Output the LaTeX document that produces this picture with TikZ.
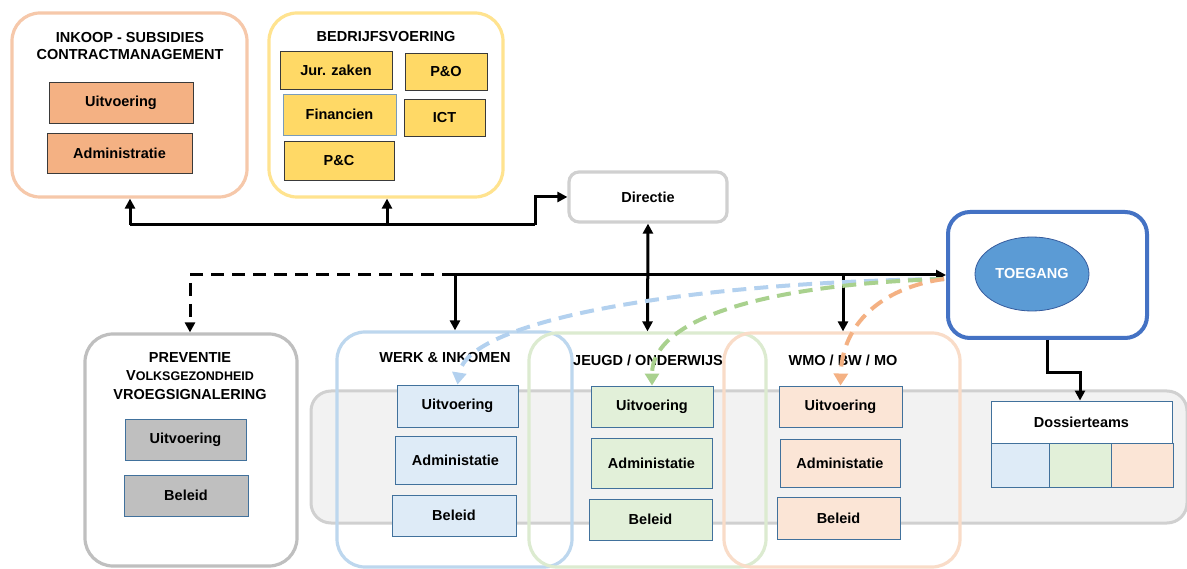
\documentclass[tikz,border=0pt]{standalone}
\usepackage{fontspec}
\setmainfont{Liberation Sans}
\usetikzlibrary{arrows.meta,shapes.geometric}

\definecolor{peachline}{HTML}{F6C8AA}
\definecolor{peachfill}{HTML}{F4B183}
\definecolor{yellowline}{HTML}{FFE38F}
\definecolor{yellowfill}{HTML}{FFD966}
\definecolor{greyline}{HTML}{BFBFBF}
\definecolor{greyfill}{HTML}{BFBFBF}
\definecolor{dirline}{HTML}{D0D0D0}
\definecolor{toegline}{HTML}{4472C4}
\definecolor{toegfill}{HTML}{5B9BD5}
\definecolor{bandfill}{HTML}{F2F2F2}
\definecolor{bandline}{HTML}{D0D0D0}
\definecolor{werkline}{HTML}{BDD7EE}
\definecolor{werkfill}{HTML}{DEEBF7}
\definecolor{jeugdline}{HTML}{DCEBD0}
\definecolor{jeugdfill}{HTML}{E2F0D9}
\definecolor{wmoline}{HTML}{F9DCC8}
\definecolor{wmofill}{HTML}{FBE5D6}
\definecolor{unitedge}{HTML}{41719C}
\definecolor{darkedge}{HTML}{3A3A3A}
\definecolor{curveblue}{HTML}{B3D1EF}
\definecolor{curvegreen}{HTML}{A9D18E}
\definecolor{curvepeach}{HTML}{F4B183}

\tikzset{
  txt/.style={font=\bfseries\fontsize{14.5}{17.5}\selectfont},
  group/.style={draw, rounded corners=28pt, line width=3.2pt, inner sep=0pt},
  unit/.style={txt, draw=unitedge, line width=0.9pt, inner sep=0pt},
  title/.style={txt, align=center, inner sep=0pt},
  tip/.style={-{Triangle[width=10pt,length=10pt]}},
  conn/.style={line width=3pt, tip},
  bus/.style={line width=3pt},
  busdash/.style={line width=3pt, dash pattern=on 13pt off 8pt},
  flow/.style={line width=4pt, dash pattern=on 14pt off 8pt,
    -{Triangle[width=14pt,length=12pt]}}
}

\begin{document}
\begin{tikzpicture}[x=1pt,y=-1pt]
\useasboundingbox (0,0) rectangle (1187,569);
\fill[white] (0,0) rectangle (1187,569);

% shared band behind the three domain columns and the dossier teams
\node[draw=bandline, fill=bandfill, line width=3pt, rounded corners=20pt,
      minimum width=876pt, minimum height=132pt, inner sep=0pt] (band) at (749,457) {};

% ---- top row -------------------------------------------------------
\node[group, draw=peachline, minimum width=235pt, minimum height=184pt] (inkoop) at (129.5,105) {};
\node[title] (inkooptitle) at (130,46) {INKOOP - SUBSIDIES\\CONTRACTMANAGEMENT};
\node[unit, draw=darkedge, fill=peachfill, minimum width=144pt, minimum height=41pt] (inkoopU) at (121,102.5) {Uitvoering};
\node[unit, draw=darkedge, fill=peachfill, minimum width=145pt, minimum height=40pt] (inkoopA) at (119.5,153) {Administratie};

\node[group, draw=yellowline, minimum width=234pt, minimum height=184pt] (bedrijf) at (386,105) {};
\node[title] (bedrijftitle) at (386,37) {BEDRIJFSVOERING};
\node[unit, draw=darkedge, fill=yellowfill, minimum width=112pt, minimum height=38pt] (jur) at (336,70) {Jur. zaken};
\node[unit, draw=darkedge, fill=yellowfill, minimum width=82pt, minimum height=37pt] (po) at (446,71.5) {P\&O};
\node[unit, draw=unitedge!70, fill=yellowfill, minimum width=113pt, minimum height=41pt] (fin) at (339.5,114.5) {Financien};
\node[unit, draw=darkedge, fill=yellowfill, minimum width=81pt, minimum height=37pt] (ict) at (444.5,117.5) {ICT};
\node[unit, draw=darkedge, fill=yellowfill, minimum width=110pt, minimum height=39pt] (pc) at (339,160.5) {P\&C};

\node[txt, draw=dirline, line width=3.2pt, rounded corners=10pt, fill=white,
      minimum width=158pt, minimum height=50pt, inner sep=0pt] (directie) at (648,197) {Directie};

% ---- toegang --------------------------------------------------------
\node[group, draw=toegline, line width=4pt, rounded corners=22pt,
      minimum width=199pt, minimum height=126pt] (toegang) at (1047.5,275) {};
\node[ellipse, draw=toegline!80!black, fill=toegfill, line width=0.8pt,
      minimum width=114pt, minimum height=74pt, inner sep=0pt,
      txt, text=white] (toegangcore) at (1032,274) {TOEGANG};

% ---- domain columns ------------------------------------------------
\node[group, draw=greyline, minimum width=212pt, minimum height=232pt] (prev) at (191,450) {};
\node[title, font=\bfseries\fontsize{14.5}{18.5}\selectfont] (prevtitle) at (190,376)
  {PREVENTIE\\V{\fontsize{12.5}{18.5}\selectfont OLKSGEZONDHEID}\\VROEGSIGNALERING};
\node[unit, fill=greyfill, minimum width=121pt, minimum height=41pt] (prevU) at (185.5,439.5) {Uitvoering};
\node[unit, fill=greyfill, minimum width=124pt, minimum height=41pt] (prevB) at (186,495.5) {Beleid};

\node[group, draw=werkline, minimum width=235pt, minimum height=235pt] (werk) at (454.5,449.5) {};
\node[group, draw=jeugdline, minimum width=237pt, minimum height=234pt] (jeugd) at (647.5,450) {};
\node[group, draw=wmoline, minimum width=236pt, minimum height=234pt] (wmo) at (842,450) {};

\node[title] (werktitle) at (445,358) {WERK \& INKOMEN};
\node[unit, fill=werkfill, minimum width=121pt, minimum height=42pt] (werkU) at (457.5,406) {Uitvoering};
\node[unit, fill=werkfill, minimum width=121pt, minimum height=48pt] (werkA) at (455.5,460) {Administatie};
\node[unit, fill=werkfill, minimum width=124pt, minimum height=41pt] (werkB) at (454,515.5) {Beleid};

\node[title] (jeugdtitle) at (648,360) {JEUGD / ONDERWIJS};
\node[unit, fill=jeugdfill, minimum width=122pt, minimum height=41pt] (jeugdU) at (652,406.5) {Uitvoering};
\node[unit, fill=jeugdfill, minimum width=121pt, minimum height=50pt] (jeugdA) at (651.5,463) {Administatie};
\node[unit, fill=jeugdfill, minimum width=123pt, minimum height=41pt] (jeugdB) at (650.5,519.5) {Beleid};

\node[title] (wmotitle) at (843,360) {WMO / BW / MO};
\node[unit, fill=wmofill, minimum width=123pt, minimum height=41pt] (wmoU) at (840.5,406.5) {Uitvoering};
\node[unit, fill=wmofill, minimum width=120pt, minimum height=48pt] (wmoA) at (840,463) {Administatie};
\node[unit, fill=wmofill, minimum width=123pt, minimum height=42pt] (wmoB) at (838.5,518) {Beleid};

% ---- dossier teams --------------------------------------------------
\node[unit, fill=white, minimum width=181pt, minimum height=42pt] (dossier) at (1081.5,422) {Dossierteams};
\node[unit, fill=werkfill, minimum width=58pt, minimum height=44pt] (dosW) at (1020,465) {};
\node[unit, fill=jeugdfill, minimum width=62pt, minimum height=44pt] (dosJ) at (1080,465) {};
\node[unit, fill=wmofill, minimum width=62pt, minimum height=44pt] (dosM) at (1142,465) {};

% ---- connectors: top row ---------------------------------------------
\coordinate (j1) at (130,225);
\coordinate (j2) at (387,225);
\coordinate (j3) at (535,225);
\coordinate (j4) at (535,197);
\draw[bus] (j1) -- (j3);
\draw[conn] (j3) -- (j4) -- (directie.west);
\draw[conn] (j1) -- (j1 |- inkoop.south);
\draw[conn] (j2) -- (j2 |- bedrijf.south);
\draw[line width=3pt, {Triangle[width=10pt,length=10pt]}-{Triangle[width=10pt,length=10pt]}]
  (directie.south) -- (jeugd.north);

% ---- connectors: main bus to the domains ---------------------------
\coordinate (k0) at (190,275);
\coordinate (k1) at (455,275);
\coordinate (k2) at (843,275);
\draw[conn] (k1) -- (toegang.west);
\draw[busdash, tip] (k1) -- (k0) -- (k0 |- prev.north);
\draw[conn] (k1) -- (k1 |- werk.north);
\draw[conn] (k2) -- (k2 |- wmo.north);

% ---- toegang to dossier teams ----------------------------------------
\coordinate (t1) at (1047.5,373);
\coordinate (t2) at (1080,373);
\draw[conn] (toegang.south) -- (t1) -- (t2) -- (t2 |- dossier.north);

% ---- intake flows ---------------------------------------------------
\coordinate (tin) at (944,279);
\draw[flow, curveblue] (tin) .. controls (700,282) and (468,318) .. (werkU.north);
\draw[flow, curvegreen] (tin) .. controls (775,284) and (652,316) .. (jeugdU.north);
\draw[flow, curvepeach] (tin) .. controls (880,288) and (842,325) .. (wmoU.north);
\end{tikzpicture}
\end{document}
